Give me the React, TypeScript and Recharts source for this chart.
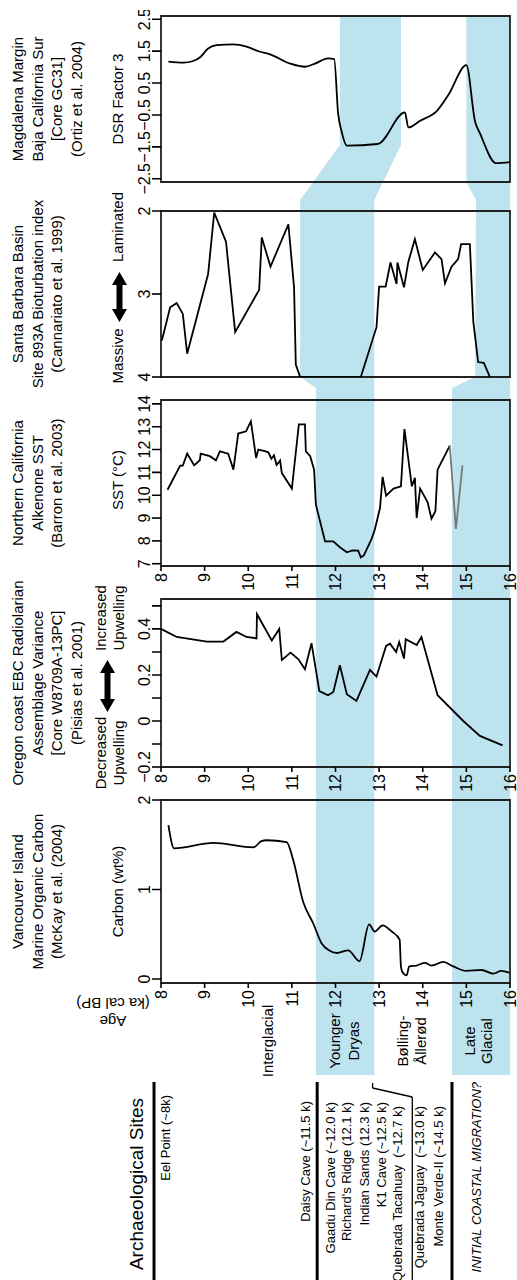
import { LineChart, Line, XAxis, YAxis, ReferenceArea, ReferenceLine, AreaChart, Area } from 'recharts';
import type { ReactNode } from 'react';

// The figure is laid out in landscape (age running down each column) and turned a quarter turn.
const FONT = '"Liberation Sans", Arial, Helvetica, sans-serif';
const BAND = '#bde3ee';
const W = 1280;
const H = 517;
const AGE_TOP = 161;
const AGE_BOTTOM = 510;
const PAD = 40;

const ageTicks = [8, 9, 10, 11, 12, 13, 14, 15, 16];

// Vancouver Island, marine organic carbon (wt%)
const vancouverAge = [8.17, 8.3, 9.2, 10.12, 10.3, 10.42, 10.88, 11.03, 11.26, 11.49, 11.68, 11.85, 12.03, 12.29, 12.55, 12.77, 12.9, 13.08, 13.29, 13.47, 13.5, 13.53, 13.63, 13.69, 13.86, 14.05, 14.2, 14.47, 14.7, 15.0, 15.35, 15.62, 15.8, 15.98];
const vancouverCarbon = [1.72, 1.46, 1.52, 1.47, 1.54, 1.55, 1.53, 1.33, 0.86, 0.62, 0.4, 0.32, 0.29, 0.32, 0.2, 0.61, 0.53, 0.6, 0.53, 0.44, 0.14, 0.08, 0.04, 0.14, 0.15, 0.18, 0.15, 0.19, 0.14, 0.09, 0.1, 0.06, 0.09, 0.07];

// Oregon coast radiolarian assemblage variance
const oregonAge = [8.0, 8.36, 9.05, 9.43, 9.73, 9.96, 10.19, 10.2, 10.54, 10.71, 10.77, 10.97, 11.15, 11.3, 11.45, 11.63, 11.83, 11.95, 12.1, 12.26, 12.48, 12.79, 12.94, 13.16, 13.25, 13.39, 13.46, 13.57, 13.61, 13.86, 13.97, 14.34, 14.93, 15.31, 15.83];
const oregonVariance = [0.4, 0.365, 0.345, 0.345, 0.387, 0.365, 0.359, 0.464, 0.35, 0.4, 0.265, 0.297, 0.268, 0.225, 0.338, 0.13, 0.112, 0.126, 0.242, 0.116, 0.087, 0.222, 0.193, 0.326, 0.336, 0.3, 0.343, 0.271, 0.355, 0.33, 0.365, 0.112, 0.0, -0.065, -0.106];

// Northern California alkenone SST (°C)
const sstAge = [8.15, 8.44, 8.5, 8.6, 8.76, 8.89, 8.91, 9.12, 9.26, 9.35, 9.54, 9.66, 9.77, 9.95, 10.06, 10.18, 10.23, 10.38, 10.46, 10.53, 10.59, 10.65, 10.73, 10.77, 11.0, 11.16, 11.3, 11.32, 11.42, 11.51, 11.55, 11.76, 11.95, 12.1, 12.26, 12.39, 12.52, 12.58, 12.65, 12.83, 12.9, 13.02, 13.08, 13.16, 13.33, 13.5, 13.58, 13.75, 13.82, 13.86, 13.94, 14.11, 14.2, 14.29, 14.34, 14.62];
const sstValue = [10.24, 11.3, 11.3, 11.82, 11.31, 11.53, 11.82, 11.71, 11.53, 11.92, 11.82, 11.12, 12.7, 12.8, 13.24, 11.63, 12.0, 11.93, 11.88, 11.6, 11.75, 11.32, 11.52, 10.97, 10.29, 13.1, 13.1, 11.92, 11.71, 11.12, 9.59, 7.98, 7.98, 7.72, 7.5, 7.58, 7.57, 7.28, 7.37, 8.1, 8.49, 9.44, 10.8, 9.98, 10.29, 10.39, 12.9, 10.39, 10.76, 9.0, 10.29, 9.7, 8.97, 9.3, 11.12, 12.17];
const sstGrayAge = [14.62, 14.76, 14.91];
const sstGrayValue = [12.17, 8.52, 11.3];

// Santa Barbara Basin bioturbation index
const sbAge = [8.02, 8.21, 8.36, 8.5, 8.6, 9.08, 9.22, 9.49, 9.7, 10.25, 10.31, 10.51, 10.92, 11.05, 11.09, 11.19, 12.58, 12.94, 13.0, 13.15, 13.26, 13.4, 13.42, 13.57, 13.67, 13.82, 14.0, 14.28, 14.43, 14.51, 14.66, 14.81, 14.88, 15.08, 15.16, 15.27, 15.4, 15.54];
const sbIndex = [3.56, 3.16, 3.11, 3.24, 3.72, 2.76, 2.02, 2.37, 3.46, 2.95, 2.32, 2.67, 2.16, 2.92, 3.85, 4.0, 4.0, 3.4, 2.91, 2.91, 2.62, 2.88, 2.62, 2.92, 2.61, 2.34, 2.71, 2.5, 2.58, 2.87, 2.67, 2.58, 2.4, 2.4, 3.34, 3.82, 3.83, 4.0];

// Magdalena Margin DSR factor 3
const magAge = [8.17, 8.51, 8.74, 8.89, 9.08, 9.28, 9.66, 9.96, 10.27, 10.5, 10.96, 11.3, 11.53, 11.83, 11.97, 12.06, 12.14, 12.26, 12.97, 13.59, 13.67, 13.94, 14.32, 14.59, 15.0, 15.2, 15.31, 15.68, 16.0];
const magFactor = [1.17, 1.14, 1.19, 1.3, 1.58, 1.69, 1.71, 1.64, 1.48, 1.4, 1.11, 1.01, 1.11, 1.27, 1.25, -0.45, -1.02, -1.46, -1.41, -0.42, -0.89, -0.68, -0.38, 0.13, 1.06, -0.71, -1.07, -2.01, -1.98];

// shaded periods (ka) at each breakpoint across the columns
const ydLow = [11.55, 11.55, 11.19, 11.19, 12.1, 12.1];
const ydHigh = [12.89, 12.89, 12.89, 12.89, 13.5, 13.5];
const lgLow = [14.67, 14.67, 15.2, 15.22, 15.0, 15.0];
const lgHigh = [16, 16, 16, 16, 16, 16];

const siteNames = ['Eel Point (~8k)', 'Daisy Cave (~11.5 k)', 'Gaadu Din Cave (~12.0 k)', "Richard's Ridge (12.1 k)", 'Indian Sands (12.3 k)', 'K1 Cave (~12.5 k)', 'Quebrada Tacahuay  (~12.7 k)', 'Quebrada Jaguay  (~13.0 k)', 'Monte Verde-II (~14.5 k)'];
const dividerAges = [7.84, 11.58, 14.67];

// column geometry (landscape px)
const VAN = { left: 297, right: 480 };
const ORE = { left: 513, right: 681 };
const NOR = { left: 714, right: 880 };
const SBB = { left: 903, right: 1069 };
const MAG = { left: 1098, right: 1264 };
const PERIOD_LEFT = 205;
const ARCH_RIGHT = 198;

const ydStops = [PERIOD_LEFT, NOR.right + 12, SBB.left, SBB.right + 11, MAG.left + 37, MAG.right];
const lgStops = [PERIOD_LEFT, NOR.right + 12, SBB.left, SBB.right + 11, MAG.left, MAG.right];

const siteY = [166, 306, 331, 347, 365, 382, 398, 420, 439];
const siteRight = [185, 179, 178, 178, 178, 178, 174, 174, 174];

const ageY = (a: number) => AGE_TOP + ((a - 8) * (AGE_BOTTOM - AGE_TOP)) / 8;
const minus = (v: number) => (v < 0 ? '\u2212' + String(Math.abs(v)) : String(v));

const toRows = (ages: number[], vals: number[]) => ages.map((age, i) => ({ age, v: vals[i] } as Record<string, number>));

const sstRows = (() => {
  const rows = toRows(sstAge, sstValue);
  rows[rows.length - 1].g = sstGrayValue[0];
  sstGrayAge.slice(1).forEach((age, i) => rows.push({ age, g: sstGrayValue[i + 1] }));
  return rows;
})();

type PanelProps = {
  left: number;
  right: number;
  rows: Record<string, number>[];
  domain: [number, number];
  ticks: number[];
  fmt: (v: number) => string;
  reversed?: boolean;
  showAge?: boolean;
  curve?: 'linear' | 'monotone';
  gray?: boolean;
};

function Panel({ left, right, rows, domain, ticks, fmt, reversed = false, showAge = false, curve = 'linear', gray = false }: PanelProps) {
  const width = right - left + PAD + 6;
  return (
    <div style={{ position: 'absolute', left: left - PAD, top: 0 }}>
      <LineChart
        width={width}
        height={H}
        data={rows}
        layout="vertical"
        margin={{ top: AGE_TOP - 30, right: 6, bottom: H - AGE_BOTTOM, left: showAge ? 0 : PAD }}
      >
        <XAxis
          type="number"
          orientation="top"
          domain={domain}
          ticks={ticks}
          interval={0}
          allowDataOverflow
          reversed={reversed}
          height={30}
          axisLine={false}
          tickSize={9}
          tickMargin={2}
          tickFormatter={fmt}
          tick={{ fill: '#000', fontSize: 16 }}
          tickLine={{ stroke: '#000', strokeWidth: 1.6 }}
        />
        {/* in a vertical layout the age axis already runs downward */}
        <YAxis
          type="number"
          dataKey="age"
          domain={[8, 16]}
          ticks={ageTicks}
          interval={0}
          allowDataOverflow
          hide={!showAge}
          width={PAD}
          axisLine={false}
          tickSize={5}
          tickMargin={2}
          tick={{ fill: '#000', fontSize: 16 }}
          tickLine={{ stroke: '#000', strokeWidth: 1.6 }}
        />
        <ReferenceArea x1={domain[0]} x2={domain[1]} y1={8} y2={16} ifOverflow="visible" fill="none" stroke="#222" strokeWidth={1.8} />
        <Line dataKey="v" type={curve} stroke="#000" strokeWidth={1.8} dot={false} isAnimationActive={false} />
        {gray && <Line dataKey="g" type="linear" stroke="#777" strokeWidth={1.8} dot={false} isAnimationActive={false} />}
      </LineChart>
    </div>
  );
}

function BandLayer({ stops, low, high, children }: { stops: number[]; low: number[]; high: number[]; children?: ReactNode }) {
  const rows = stops.map((pos, i) => ({ pos, range: [low[i], high[i]] }));
  return (
    <div style={{ position: 'absolute', left: 0, top: 0 }}>
      <AreaChart width={W} height={H} data={rows} margin={{ top: AGE_TOP, right: 0, bottom: H - AGE_BOTTOM, left: 0 }}>
        <XAxis type="number" dataKey="pos" domain={[0, W]} hide allowDataOverflow />
        <YAxis type="number" domain={[8, 16]} reversed hide allowDataOverflow />
        <Area dataKey="range" type="linear" fill={BAND} fillOpacity={1} stroke="none" isAnimationActive={false} />
        {children}
      </AreaChart>
    </div>
  );
}

function Note({ x, y, children, size = 15, lh = 19.5, anchor = 'center', italic = false }: { x: number; y: number; children: ReactNode; size?: number; lh?: number; anchor?: 'center' | 'end'; italic?: boolean }) {
  return (
    <div
      style={{
        position: 'absolute',
        left: x,
        top: y,
        transform: `translate(${anchor === 'end' ? '-100%' : '-50%'}, -50%)`,
        fontSize: size,
        lineHeight: `${lh}px`,
        whiteSpace: 'pre',
        textAlign: anchor === 'end' ? 'right' : 'center',
        fontStyle: italic ? 'italic' : 'normal',
      }}
    >
      {children}
    </div>
  );
}

function DoubleArrow({ x, y, length = 52 }: { x: number; y: number; length?: number }) {
  const h = 15;
  const head = 13;
  const s = 3;
  const m = h / 2;
  const pts = [
    [0, m], [head, 0], [head, m - s], [length - head, m - s], [length - head, 0], [length, m],
    [length - head, h], [length - head, m + s], [head, m + s], [head, h],
  ].map((p) => p.join(',')).join(' ');
  return (
    <svg width={length} height={h} style={{ position: 'absolute', left: x - length / 2, top: y - h / 2 }}>
      <polygon points={pts} fill="#000" />
    </svg>
  );
}

const headerY = (n: number) => 8 + (n * 19.5) / 2;
const mid = (p: { left: number; right: number }) => (p.left + p.right) / 2;

export default function App() {
  return (
    <div style={{ position: 'absolute', left: 0, top: 0, width: 517, height: 1280, overflow: 'hidden', background: '#fff' }}>
      <div
        style={{
          position: 'absolute',
          left: 0,
          top: 0,
          width: W,
          height: H,
          transformOrigin: '0 0',
          transform: `translateY(${W}px) rotate(-90deg)`,
          fontFamily: FONT,
          color: '#000',
        }}
      >
        <BandLayer stops={ydStops} low={ydLow} high={ydHigh}>
          {dividerAges.map((a) => (
            <ReferenceLine key={a} segment={[{ x: 0, y: a }, { x: ARCH_RIGHT, y: a }]} stroke="#000" strokeWidth={3} ifOverflow="visible" />
          ))}
          <ReferenceLine segment={[{ x: ARCH_RIGHT - 1, y: 12.85 }, { x: 192, y: 12.85 }]} stroke="#000" strokeWidth={1.3} ifOverflow="visible" />
          <ReferenceLine segment={[{ x: 192, y: 12.85 }, { x: 183, y: 13.76 }]} stroke="#000" strokeWidth={1.3} ifOverflow="visible" />
          <ReferenceLine segment={[{ x: 183, y: 13.76 }, { x: 0, y: 13.76 }]} stroke="#000" strokeWidth={1.3} ifOverflow="visible" />
        </BandLayer>
        <BandLayer stops={lgStops} low={lgLow} high={lgHigh} />

        {/* archaeological sites */}
        <Note x={96} y={137} size={19}>Archaeological Sites</Note>
        {siteNames.map((s, i) => (
          <Note key={s} x={siteRight[i]} y={siteY[i]} size={13} anchor="end">{s}</Note>
        ))}
        <Note x={ARCH_RIGHT} y={477} size={13} anchor="end" italic>INITIAL COASTAL MIGRATION?</Note>

        {/* periods */}
        <div
          style={{
            position: 'absolute',
            left: 268,
            top: 113,
            transform: 'translate(-50%, -50%) rotate(-90deg)',
            fontSize: 15,
            lineHeight: '17.5px',
            textAlign: 'center',
            whiteSpace: 'pre',
          }}
        >
          {'Age\n(ka cal BP)'}
        </div>
        <Note x={239} y={ageY(10.45)} lh={18}>Interglacial</Note>
        <Note x={239} y={ageY(12.2)} lh={19}>{'Younger\nDryas'}</Note>
        <Note x={239} y={ageY(13.75)} lh={18}>{'Bølling-\nÅllerød'}</Note>
        <Note x={239} y={ageY(15.27)} lh={17}>{'Late\nGlacial'}</Note>

        {/* column headers */}
        <Note x={mid(VAN)} y={headerY(3)}>{'Vancouver Island\nMarine Organic Carbon\n(McKay et al. (2004)'}</Note>
        <Note x={mid(ORE)} y={headerY(4)}>{'Oregon coast EBC Radiolarian\nAssemblage Variance\n[Core W8709A-13PC]\n(Pisias et al. 2001)'}</Note>
        <Note x={mid(NOR)} y={headerY(3)}>{'Northern California\nAlkenone SST\n(Barron et al. 2003)'}</Note>
        <Note x={mid(SBB)} y={headerY(3)}>{'Santa Barbara Basin\nSite 893A Bioturbation index\n(Cannariato et al. 1999)'}</Note>
        <Note x={mid(MAG)} y={headerY(4)}>{'Magdalena Margin\nBaja California Sur\n[Core GC31]\n(Ortiz et al. 2004)'}</Note>

        {/* axis titles */}
        <Note x={mid(VAN)} y={118}>Carbon (wt%)</Note>
        <Note x={527} y={109} lh={17.5}>{'Decreased\nUpwelling'}</Note>
        <DoubleArrow x={594} y={107} />
        <Note x={662} y={109} lh={17.5}>{'Increased\nUpwelling'}</Note>
        <Note x={800} y={118}>SST (°C)</Note>
        <Note x={924} y={118}>Massive</Note>
        <DoubleArrow x={983} y={119} length={50} />
        <Note x={1053} y={118}>Laminated</Note>
        <Note x={mid(MAG)} y={118}>DSR Factor 3</Note>

        <Panel {...VAN} rows={toRows(vancouverAge, vancouverCarbon)} domain={[-0.045, 2]} ticks={[0, 1, 2]} fmt={minus} showAge curve="monotone" />
        <Panel
          {...ORE}
          rows={toRows(oregonAge, oregonVariance)}
          domain={[-0.2, 0.53]}
          ticks={[-0.2, -0.1, 0, 0.1, 0.2, 0.3, 0.4, 0.5]}
          fmt={(v) => (Math.round(v * 10) % 2 === 0 ? minus(v) : '')}
          showAge
        />
        <Panel {...NOR} rows={sstRows} domain={[6.9, 14.17]} ticks={[7, 8, 9, 10, 11, 12, 13, 14]} fmt={minus} showAge gray />
        <Panel {...SBB} rows={toRows(sbAge, sbIndex)} domain={[2, 4]} ticks={[2, 3, 4]} fmt={minus} reversed />
        <Panel {...MAG} rows={toRows(magAge, magFactor)} domain={[-2.6, 2.6]} ticks={[-2.5, -1.5, -0.5, 0.5, 1.5, 2.5]} fmt={minus} curve="monotone" />
      </div>
    </div>
  );
}
